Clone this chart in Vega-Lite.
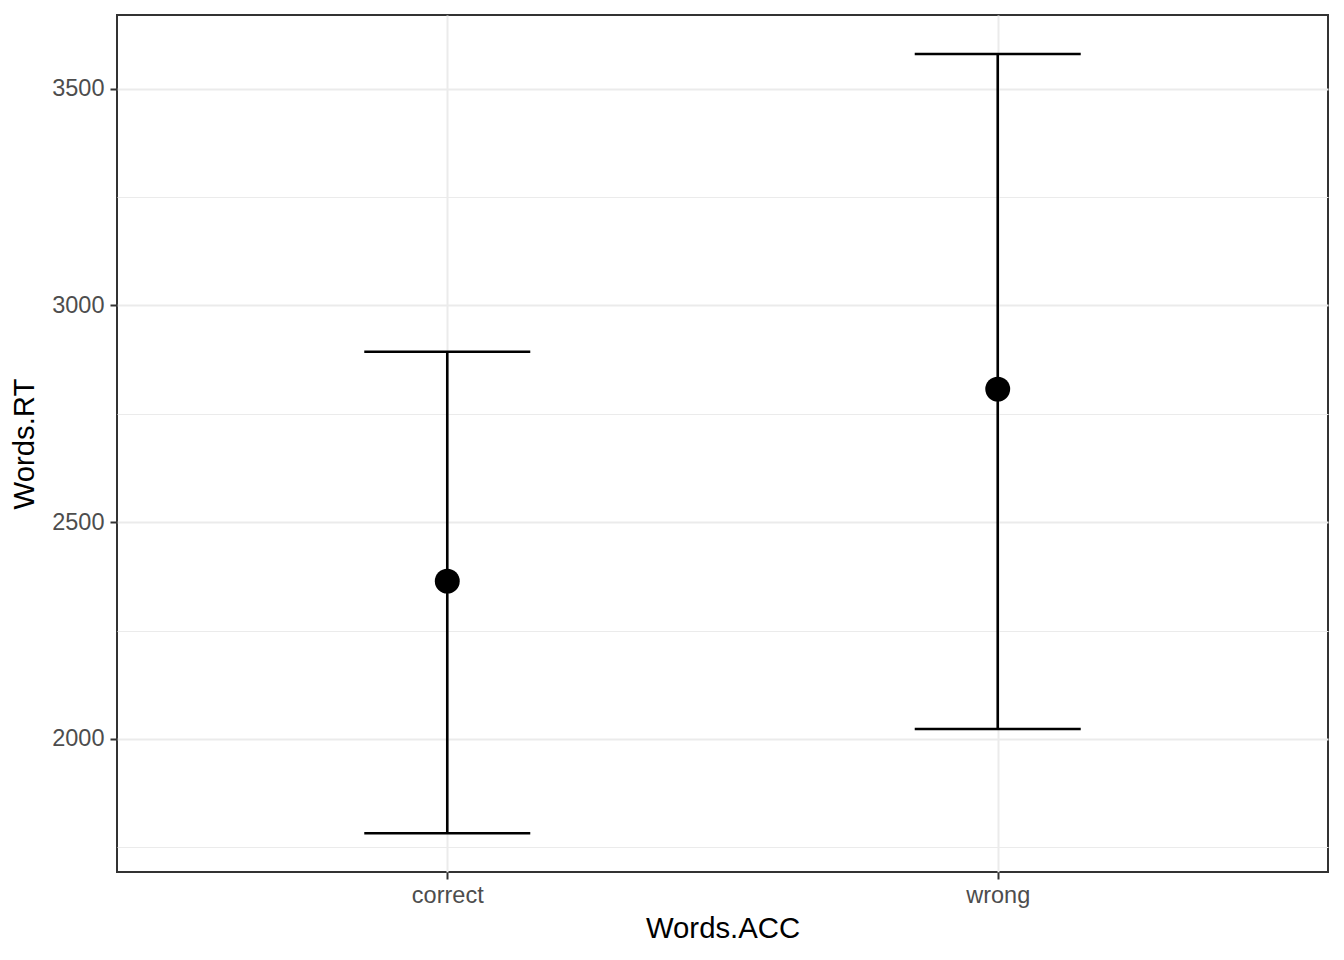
{
  "$schema": "https://vega.github.io/schema/vega-lite/v6.json",
  "width": 1211,
  "height": 857,
  "autosize": {"type": "none"},
  "padding": {"left": 117, "top": 15, "right": 16, "bottom": 88},
  "background": "white",
  "config": {
    "font": "Liberation Sans",
    "view": {"stroke": "#333333", "strokeWidth": 2},
    "axis": {
      "domain": false,
      "tickColor": "#333333",
      "tickWidth": 2,
      "tickSize": 7,
      "labelFont": "Liberation Sans",
      "labelFontSize": 23.5,
      "labelColor": "#4D4D4D",
      "titleFont": "Liberation Sans",
      "titleFontSize": 29.3,
      "titleFontWeight": "normal",
      "titleColor": "#000000",
      "gridColor": "#EBEBEB"
    }
  },
  "data": {
    "values": [
      {"Words.ACC": "correct", "mean": 2364, "lo": 1782.5, "hi": 2893},
      {"Words.ACC": "wrong", "mean": 2807, "lo": 2023, "hi": 3580}
    ]
  },
  "resolve": {"axis": {"y": "independent"}},
  "layer": [
    {
      "mark": {"type": "rule", "color": "black", "strokeWidth": 2.6},
      "encoding": {
        "x": {
          "field": "Words\\.ACC",
          "type": "nominal",
          "scale": {"type": "point", "padding": 0.6},
          "axis": {"title": "Words.ACC", "grid": true, "gridWidth": 2, "labelAngle": 0, "labelPadding": 4, "titlePadding": 8}
        },
        "y": {
          "field": "lo",
          "type": "quantitative",
          "scale": {"domain": [1693, 3670], "nice": false, "zero": false},
          "axis": {"orient": "left", "values": [1750, 2250, 2750, 3250], "grid": true, "gridWidth": 1, "labels": false, "ticks": false, "domain": false, "title": null}
        },
        "y2": {"field": "hi"}
      }
    },
    {
      "mark": {"type": "tick", "color": "black", "opacity": 1, "size": 166, "thickness": 2.6},
      "encoding": {
        "x": {"field": "Words\\.ACC", "type": "nominal"},
        "y": {"field": "hi", "type": "quantitative", "axis": null}
      }
    },
    {
      "mark": {"type": "tick", "color": "black", "opacity": 1, "size": 166, "thickness": 2.6},
      "encoding": {
        "x": {"field": "Words\\.ACC", "type": "nominal"},
        "y": {"field": "lo", "type": "quantitative", "axis": null}
      }
    },
    {
      "mark": {"type": "point", "filled": true, "color": "black", "opacity": 1, "size": 620},
      "encoding": {
        "x": {"field": "Words\\.ACC", "type": "nominal"},
        "y": {
          "field": "mean",
          "type": "quantitative",
          "axis": {"orient": "left", "values": [2000, 2500, 3000, 3500], "format": "d", "grid": true, "gridWidth": 2, "title": "Words.RT", "labelPadding": 6, "titlePadding": 12}
        }
      }
    }
  ]
}
